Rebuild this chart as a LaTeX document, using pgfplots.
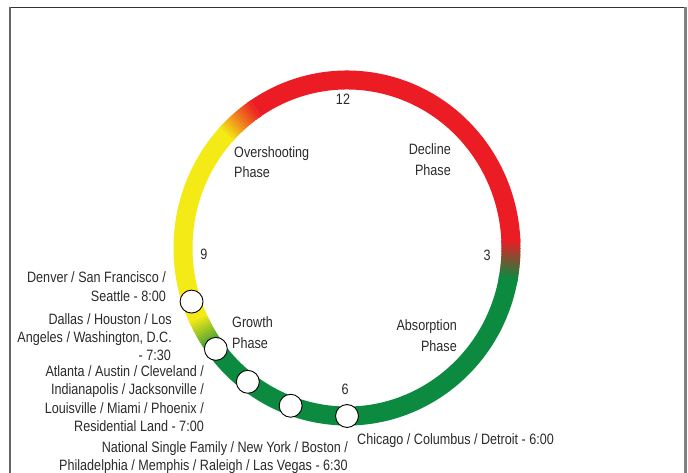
\documentclass[border=0pt]{standalone}
\usepackage{fontspec}
\setmainfont{Liberation Sans}[FakeStretch=0.84]
\usepackage{pgfplots}
\pgfplotsset{compat=1.18}
\usetikzlibrary{backgrounds}

\definecolor{ringred}{HTML}{EC1C24}
\definecolor{ringgreen}{HTML}{0B8A40}
\definecolor{ringyellow}{HTML}{F4EA16}
\definecolor{ringorange}{HTML}{F0801E}
\definecolor{txt}{HTML}{2A2A2A}

% one arc of the cycle ring, angles measured clockwise from 12 o'clock
\newcommand\ringarc[3]{\draw[line width=19bp,#3] ({164bp*sin(#1)},{168bp*cos(#1)})
  arc[start angle={90-(#1)}, end angle={90-(#2)}, x radius=164bp, y radius=168bp];}

\begin{document}
\begin{tikzpicture}[every node/.style={text=txt, inner sep=0pt, font=\fontsize{15bp}{19bp}\selectfont}]
\begin{axis}[
  at={(0,0)}, anchor=south west,
  scale only axis, width=688bp, height=473bp,
  xmin=0, xmax=688, ymin=0, ymax=473, y dir=reverse,
  hide axis, clip=false]

% frame
\draw[black!80, line width=1.2bp] (axis cs:10,7.5) -- (axis cs:686,7.5);
\draw[black!60, line width=1.2bp] (axis cs:10,7) -- (axis cs:10,473);
\draw[black!50, line width=2.2bp] (axis cs:685.5,7) -- (axis cs:685.5,473);

\coordinate (C) at (axis cs:347,248);
\coordinate (SW) at (axis cs:0,473);
\coordinate (NE) at (axis cs:688,0);

% metros placed on the clock (position in clock hours)
\addplot[only marks, mark=*, mark size=11.5,
  mark options={fill=white, draw=black, line width=0.9bp}]
  table[x expr={347+164*sin(30*\thisrow{pos})}, y expr={248-168*cos(30*\thisrow{pos})}] {
pos
8.38
7.77
7.24
6.67
6.00
};

% clock numerals
\node[anchor=base] at (axis cs:343,105) {12};
\node[anchor=base] at (axis cs:487,260) {3};
\node[anchor=base] at (axis cs:345,394) {6};
\node[anchor=base] at (axis cs:204,259) {9};

% phase names
\node[anchor=base west] at (axis cs:234,157) {Overshooting};
\node[anchor=base west] at (axis cs:234,177) {Phase};
\node[anchor=base east] at (axis cs:451,154) {Decline};
\node[anchor=base east] at (axis cs:451,175) {Phase};
\node[anchor=base west] at (axis cs:232,327) {Growth};
\node[anchor=base west] at (axis cs:232,348) {Phase};
\node[anchor=base east] at (axis cs:457,330) {Absorption};
\node[anchor=base east] at (axis cs:457,351) {Phase};

% metro labels
\node[anchor=base east] at (axis cs:166,282) {Denver / San Francisco /};
\node[anchor=base east] at (axis cs:166,301) {Seattle - 8:00};
\node[anchor=base east] at (axis cs:172,324) {Dallas / Houston / Los};
\node[anchor=base east] at (axis cs:172,342) {Angeles / Washington, D.C.};
\node[anchor=base east] at (axis cs:171,360) {- 7:30};
\node[anchor=base east] at (axis cs:204,376) {Atlanta / Austin / Cleveland /};
\node[anchor=base east] at (axis cs:204,394) {Indianapolis / Jacksonville /};
\node[anchor=base east] at (axis cs:204,413) {Louisville / Miami / Phoenix /};
\node[anchor=base east] at (axis cs:204,431) {Residential Land - 7:00};
\node[anchor=base east] at (axis cs:348,452) {National Single Family / New York / Boston /};
\node[anchor=base east] at (axis cs:348,470) {Philadelphia / Memphis / Raleigh / Las Vegas - 6:30};
\node[anchor=base west] at (axis cs:357,444) {Chicago / Columbus / Detroit - 6:00};
\end{axis}

% the cycle ring, behind the markers
\begin{scope}[on background layer, shift={(C)}]
  \ringarc{-35}{88}{ringred}
  \ringarc{100}{233}{ringgreen}
  \ringarc{245}{313}{ringyellow}
  \foreach \i in {0,...,13}{%
    \pgfmathsetmacro\t{87+\i}\pgfmathtruncatemacro\p{100-100*\i/13}%
    \ringarc{\t}{\t+1.4}{ringred!\p!ringgreen}}
  \foreach \i in {0,...,13}{%
    \pgfmathsetmacro\t{232+\i}\pgfmathtruncatemacro\p{100-100*\i/13}%
    \ringarc{\t}{\t+1.4}{ringgreen!\p!ringyellow}}
  \foreach \i in {0,...,6}{%
    \pgfmathsetmacro\t{312+\i}\pgfmathtruncatemacro\p{100-100*\i/7}%
    \ringarc{\t}{\t+1.4}{ringyellow!\p!ringorange}}
  \foreach \i in {0,...,6}{%
    \pgfmathsetmacro\t{319+\i}\pgfmathtruncatemacro\p{100-100*\i/7}%
    \ringarc{\t}{\t+1.4}{ringorange!\p!ringred}}
\end{scope}

\pgfresetboundingbox
\useasboundingbox (SW) rectangle (NE);
\end{tikzpicture}
\end{document}
